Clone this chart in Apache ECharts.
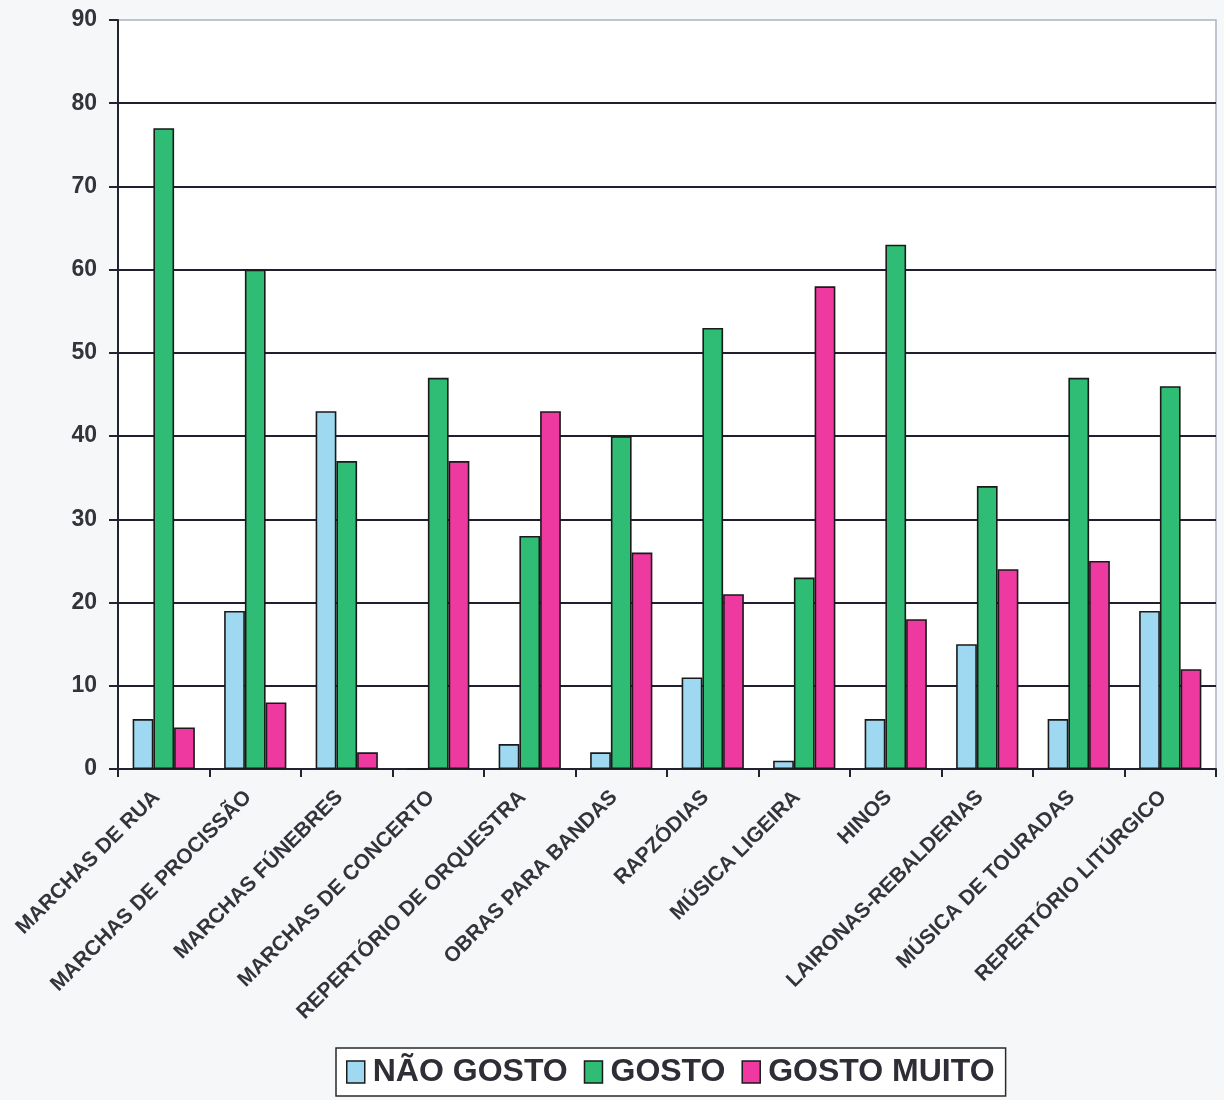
<!DOCTYPE html>
<html>
<head>
<meta charset="utf-8">
<script src="https://cdn.jsdelivr.net/npm/echarts@6/dist/echarts.min.js"></script>
<style>
  html, body { margin: 0; padding: 0; background: #f6f7f9; }
  #chart { width: 1224px; height: 1100px; }
</style>
</head>
<body>
<div id="chart"></div>
<script>
// Preferência por géneros de repertório (número de respostas)
const categories = [
  'MARCHAS DE RUA', 'MARCHAS DE PROCISSÃO', 'MARCHAS FÚNEBRES', 'MARCHAS DE CONCERTO',
  'REPERTÓRIO DE ORQUESTRA', 'OBRAS PARA BANDAS', 'RAPZÓDIAS', 'MÚSICA LIGEIRA',
  'HINOS', 'LAIRONAS-REBALDERIAS', 'MÚSICA DE TOURADAS', 'REPERTÓRIO LITÚRGICO'
];
const naoGosto    = [6, 19, 43, 0, 3, 2, 11, 1, 6, 15, 6, 19];
const gosto       = [77, 60, 37, 47, 28, 40, 53, 23, 63, 34, 47, 46];
const gostoMuito  = [5, 8, 2, 37, 43, 26, 21, 58, 18, 24, 25, 12];
const seriesNames = ['NÃO GOSTO', 'GOSTO', 'GOSTO MUITO'];
const seriesColors = ['#9ed9f1', '#2fbc74', '#ee3aa0'];

const FONT = '"Liberation Sans", Arial, sans-serif';
const chart = echarts.init(document.getElementById('chart'));

const makeSeries = (name, data, color) => ({
  name: name,
  type: 'bar',
  data: data,
  barGap: '0%',
  barCategoryGap: '32%',
  itemStyle: { color: color, borderColor: '#1a1a1a', borderWidth: 1.6 },
  emphasis: { disabled: true }
});

chart.setOption({
  backgroundColor: '#f6f7f9',
  animation: false,
  grid: {
    left: 118, right: 8, top: 20, bottom: 331,
    show: true, backgroundColor: '#ffffff',
    borderColor: '#aab4c2', borderWidth: 1.5
  },
  legend: {
    left: 336, top: 1048,
    data: seriesNames,
    backgroundColor: '#ffffff',
    borderColor: '#2a2a2a', borderWidth: 1.5,
    padding: [8, 11, 8, 10],
    itemWidth: 18, itemHeight: 22, itemGap: 16,
    icon: 'rect',
    itemStyle: { borderColor: '#1a1a1a', borderWidth: 1.5 },
    textStyle: { fontFamily: FONT, fontSize: 32, fontWeight: 'bold', color: '#2e2e36', padding: [0, 0, 0, 3] }
  },
  xAxis: {
    type: 'category',
    data: categories,
    axisLine: { lineStyle: { color: '#222230', width: 2 } },
    axisTick: { show: true, alignWithLabel: false, length: 8, lineStyle: { color: '#222230', width: 2 } },
    axisLabel: {
      interval: 0, rotate: 45, margin: 18, padding: [0, 10, 0, 0],
      fontFamily: FONT, fontSize: 21, fontWeight: 'bold', color: '#33333b'
    }
  },
  yAxis: {
    type: 'value',
    min: 0, max: 90, interval: 10,
    axisLine: { show: true, lineStyle: { color: '#222230', width: 2 } },
    axisTick: { show: true, length: 9, lineStyle: { color: '#222230', width: 2 } },
    axisLabel: { margin: 21, fontFamily: FONT, fontSize: 23, fontWeight: 'bold', color: '#33333b' },
    splitLine: { show: true, showMaxLine: false, lineStyle: { color: '#1f1f30', width: 2 } }
  },
  series: [
    makeSeries(seriesNames[0], naoGosto, seriesColors[0]),
    makeSeries(seriesNames[1], gosto, seriesColors[1]),
    makeSeries(seriesNames[2], gostoMuito, seriesColors[2])
  ]
});
</script>
</body>
</html>
